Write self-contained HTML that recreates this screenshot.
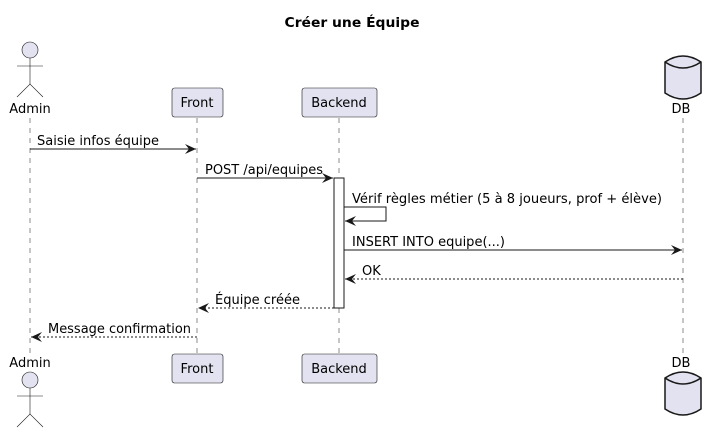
<!DOCTYPE html>
<html><head><meta charset="utf-8"><style>
html,body{margin:0;padding:0;background:#fff;}
svg{display:block;font-family:"DejaVu Sans","Liberation Sans",sans-serif;}
</style></head><body>
<svg width="717" height="435" viewBox="0 0 717 435" xmlns="http://www.w3.org/2000/svg">
<defs>
<marker id="a" markerWidth="12" markerHeight="10" refX="11" refY="5" orient="auto" markerUnits="userSpaceOnUse">
<path d="M0,0 L11,5 L0,10 L4,5 Z" fill="#181818"/>
</marker>
</defs>
<text x="352" y="27" font-size="13" font-weight="bold" text-anchor="middle" fill="#000" textLength="135" lengthAdjust="spacingAndGlyphs">Créer une Équipe</text>
<g stroke="#181818" stroke-width="0.5" stroke-dasharray="5,5">
<line x1="30" y1="118" x2="30" y2="353"/>
<line x1="197" y1="118" x2="197" y2="353"/>
<line x1="339" y1="118" x2="339" y2="353"/>
<line x1="683" y1="118" x2="683" y2="353"/>
</g>
<g fill="#E2E2F0" stroke="#181818" stroke-width="0.6">
<circle cx="30" cy="50" r="8"/>
<line x1="30" y1="58" x2="30" y2="84"/>
<line x1="17" y1="66" x2="43" y2="66"/>
<polyline points="17,97 30,84 43,97" fill="none"/>
<rect x="172" y="88" width="51" height="29" rx="2.5"/>
<rect x="302" y="88" width="75" height="29" rx="2.5"/>
</g>
<g fill="#E2E2F0" stroke="#181818" stroke-width="1.5">
<path d="M665,62 Q683,50 701,62 L701,93 Q683,105 665,93 Z"/>
<path d="M665,62 Q683,74 701,62" fill="none"/>
</g>
<g font-size="13" fill="#000" text-anchor="middle">
<text x="30" y="113">Admin</text>
<text x="197" y="107">Front</text>
<text x="339" y="107">Backend</text>
<text x="681" y="113">DB</text>
</g>
<g fill="#E2E2F0" stroke="#181818" stroke-width="0.6">
<circle cx="30" cy="380" r="8"/>
<line x1="30" y1="388" x2="30" y2="414"/>
<line x1="17" y1="396" x2="43" y2="396"/>
<polyline points="17,427 30,414 43,427" fill="none"/>
<rect x="172" y="354" width="51" height="29" rx="2.5"/>
<rect x="302" y="354" width="75" height="29" rx="2.5"/>
</g>
<g fill="#E2E2F0" stroke="#181818" stroke-width="1.5">
<path d="M665,378 Q683,366 701,378 L701,409 Q683,421 665,409 Z"/>
<path d="M665,378 Q683,390 701,378" fill="none"/>
</g>
<g font-size="13" fill="#000" text-anchor="middle">
<text x="30" y="367">Admin</text>
<text x="197" y="373">Front</text>
<text x="339" y="373">Backend</text>
<text x="681" y="367">DB</text>
</g>
<rect x="334" y="178" width="10" height="130" fill="#fff" stroke="#181818" stroke-width="1"/>
<g stroke="#181818" stroke-width="1" fill="none">
<line x1="30" y1="149" x2="196" y2="149" marker-end="url(#a)"/>
<line x1="197" y1="178" x2="333" y2="178" marker-end="url(#a)"/>
<polyline points="344,207 386,207 386,221 345,221" marker-end="url(#a)"/>
<line x1="344" y1="250" x2="682" y2="250" marker-end="url(#a)"/>
<line x1="683" y1="279" x2="345" y2="279" stroke-dasharray="2,2" marker-end="url(#a)"/>
<line x1="334" y1="308" x2="198" y2="308" stroke-dasharray="2,2" marker-end="url(#a)"/>
<line x1="197" y1="337" x2="31" y2="337" stroke-dasharray="2,2" marker-end="url(#a)"/>
</g>
<g font-size="13" fill="#000">
<text x="37" y="145" textLength="122" lengthAdjust="spacingAndGlyphs">Saisie infos équipe</text>
<text x="205" y="174" textLength="118" lengthAdjust="spacingAndGlyphs">POST /api/equipes</text>
<text x="352" y="203" textLength="310" lengthAdjust="spacingAndGlyphs">Vérif règles métier (5 à 8 joueurs, prof + élève)</text>
<text x="352" y="246" textLength="153" lengthAdjust="spacingAndGlyphs">INSERT INTO equipe(...)</text>
<text x="362" y="275">OK</text>
<text x="215" y="304" textLength="85" lengthAdjust="spacingAndGlyphs">Équipe créée</text>
<text x="48" y="333" textLength="143" lengthAdjust="spacingAndGlyphs">Message confirmation</text>
</g>
</svg>
</body></html>
